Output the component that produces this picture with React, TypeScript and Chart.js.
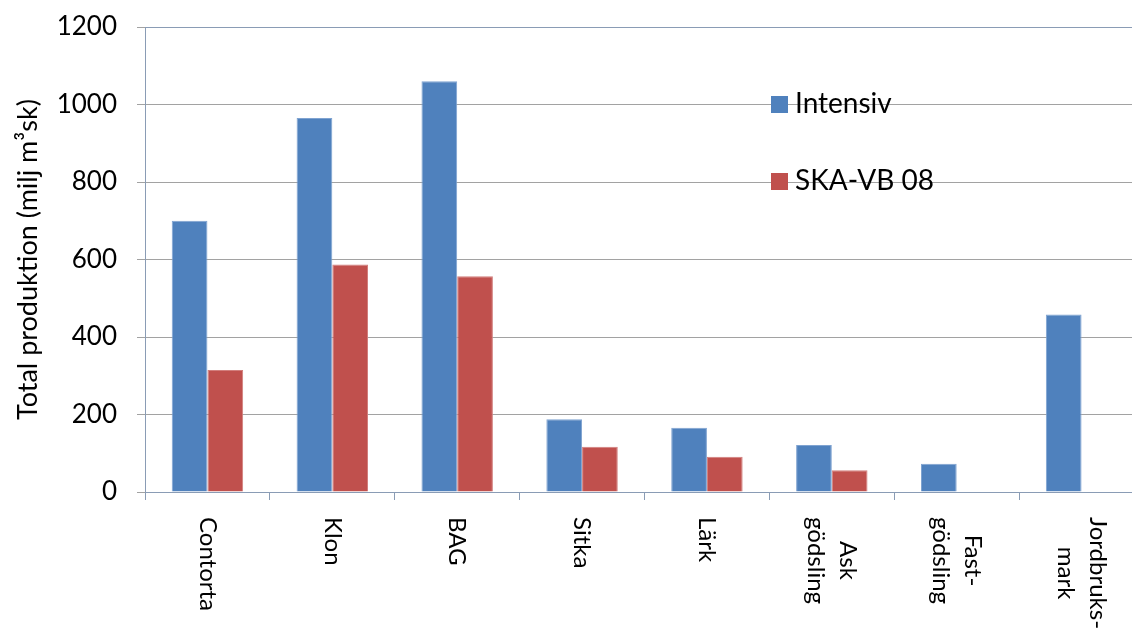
import { useEffect, useRef } from "react";
import { Chart, registerables } from "chart.js";

Chart.register(...registerables);

// Categories (multi-line labels are given as arrays of lines)
const categories: (string | string[])[] = [
  "Contorta",
  "Klon",
  "BAG",
  "Sitka",
  "Lärk",
  ["Ask", "gödsling"],
  ["Fast-", "gödsling"],
  ["Jordbruks-", "mark"],
];
const intensiv = [700, 965, 1060, 188, 166, 121, 73, 458];
const skaVb08: (number | null)[] = [315, 587, 557, 117, 91, 56, null, null];
const seriesNames = ["Intensiv", "SKA-VB 08"];
const yTicks = [0, 200, 400, 600, 800, 1000, 1200];
const yTitle = "Total produktion (milj m³sk)";

const FONT = "Lato, 'Noto Sans', sans-serif";
const BLUE = "#4F81BD";
const RED = "#C0504D";
const AXIS = "#8A9CB5";
const GRID = "#A2A2A2";

const CANVAS_W = 1160;
const CANVAS_H = 628;

// Draws the rotated category labels and the in-plot legend
const overlayPlugin = {
  id: "overlay",
  afterDraw(chart: any) {
    const { ctx, chartArea: area } = chart;
    const xs = chart.scales.x;
    ctx.save();
    ctx.fillStyle = "#000";

    // category labels, rotated 90° clockwise
    ctx.font = `24px ${FONT}`;
    ctx.textAlign = "left";
    ctx.textBaseline = "middle";
    const lineGap = 32;
    categories.forEach((lab, i) => {
      const lines = Array.isArray(lab) ? lab : [lab];
      const widths = lines.map((l) => ctx.measureText(l).width);
      const w = Math.max(...widths);
      const cx = xs.getPixelForValue(i);
      ctx.save();
      ctx.translate(cx, area.bottom + 25);
      ctx.rotate(Math.PI / 2);
      lines.forEach((l, j) => {
        ctx.fillText(l, (w - widths[j]) / 2, (j - (lines.length - 1) / 2) * lineGap);
      });
      ctx.restore();
    });

    // legend
    const colors = [BLUE, RED];
    const lx = area.left + 626;
    const rows = [area.top + 86, area.top + 163];
    ctx.font = `28px ${FONT}`;
    ctx.textBaseline = "alphabetic";
    seriesNames.forEach((name, i) => {
      ctx.fillStyle = colors[i];
      ctx.fillRect(lx, rows[i] - 17, 17, 17);
      ctx.fillStyle = "#000";
      ctx.fillText(name, lx + 24, rows[i]);
    });
    ctx.restore();
  },
};

export default function App() {
  const ref = useRef<HTMLCanvasElement | null>(null);

  useEffect(() => {
    if (!ref.current) return;
    const chart = new Chart(ref.current, {
      type: "bar",
      data: {
        labels: categories.map((c) => (Array.isArray(c) ? c.join(" ") : c)),
        datasets: [
          {
            label: seriesNames[0],
            data: intensiv,
            backgroundColor: BLUE,
            borderColor: "#7FA3D1",
            borderWidth: 1,
          },
          {
            label: seriesNames[1],
            data: skaVb08,
            backgroundColor: RED,
            borderColor: "#D27E7C",
            borderWidth: 1,
          },
        ],
      },
      options: {
        responsive: false,
        animation: false,
        devicePixelRatio: 1,
        layout: { padding: { left: 0, right: CANVAS_W - 1144, top: 27, bottom: 0 } },
        datasets: {
          bar: { categoryPercentage: 0.572, barPercentage: 1 },
        },
        plugins: {
          legend: { display: false },
          tooltip: { enabled: false },
        },
        scales: {
          x: {
            type: "category",
            grid: {
              offset: true,
              drawOnChartArea: false,
              drawTicks: true,
              tickLength: 8,
              color: AXIS,
            },
            border: { color: AXIS, width: 1 },
            ticks: { display: false },
            afterFit: (s: any) => {
              s.height = CANVAS_H - 492;
            },
          },
          y: {
            min: yTicks[0],
            max: yTicks[yTicks.length - 1],
            ticks: {
              stepSize: yTicks[1] - yTicks[0],
              color: "#000",
              padding: 20,
              font: { family: FONT, size: 26 },
              callback: (v: any) => String(v),
            },
            grid: {
              color: (c: any) => (c.tick && c.tick.value === yTicks[yTicks.length - 1] ? AXIS : GRID),
              tickColor: GRID,
              tickLength: 8,
              lineWidth: 1,
            },
            border: { color: AXIS, width: 1 },
            title: {
              display: true,
              text: yTitle,
              color: "#000",
              font: { family: FONT, size: 27 },
              padding: { top: 12, bottom: 0 },
            },
            afterFit: (s: any) => {
              s.width = 145;
              s.paddingTop = 0;
              s.paddingBottom = 0;
            },
          },
        },
      },
      plugins: [overlayPlugin],
    });
    return () => chart.destroy();
  }, []);

  return (
    <div
      style={{
        position: "fixed",
        left: 0,
        top: 0,
        width: 1132,
        height: 628,
        overflow: "hidden",
        background: "#fff",
      }}
    >
      <canvas ref={ref} width={CANVAS_W} height={CANVAS_H} style={{ display: "block" }} />
    </div>
  );
}
